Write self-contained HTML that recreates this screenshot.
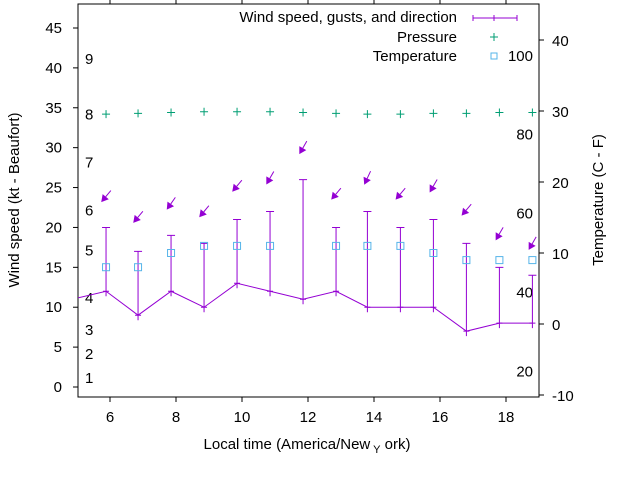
<!DOCTYPE html>
<html><head><meta charset="utf-8"><style>
body{margin:0;background:#fff}
svg{display:block;font-family:"Liberation Sans",sans-serif;font-size:15px}
</style></head><body>
<svg id="chart" width="640" height="480" viewBox="0 0 640 480">
<g id="g"></g>
</svg>
<script>
const hours=[4.85,5.88,6.85,7.85,8.85,9.85,10.85,11.85,12.85,13.8,14.8,15.8,16.8,17.8,18.8];
const windSpeed=[11,12,9,12,10,13,12,11,12,10,10,10,7,8,8];
const gusts=[null,20,17,19,18,21,22,26,20,22,20,21,18,15,14];
const arrowLevel=[null,23.9,21.3,23,22,25.2,26.2,30,24.2,26.2,24.2,25.2,22.2,19.2,18];
const windFrom=[null,40,40,35,40,40,30,30,40,25,40,30,40,30,30];
const pressure=[null,34.2,34.3,34.4,34.5,34.5,34.5,34.4,34.3,34.2,34.2,34.3,34.3,34.4,34.4];
const temperature=[null,8,8,10,11,11,11,null,11,11,11,10,9,9,9];
const xTicks=[6,8,10,12,14,16,18];
const yTicks=[0,5,10,15,20,25,30,35,40,45];
const y2Ticks=[-10,0,10,20,30,40];
const beaufort=[[1,1],[2,4],[3,7],[4,11],[5,17],[6,22],[7,28],[8,34],[9,41]];
const fahr=[[20,-6.67],[40,4.44],[60,15.56],[80,26.67],[100,37.78]];

const L=78,R=539,T=4,B=397;
const X=v=>77+(v-5)*33;
const Y=v=>387-v*7.978;
const Y2=v=>324-v*7.1;
const NS='http://www.w3.org/2000/svg';
const g=document.getElementById('g');
function el(t,a,p){const e=document.createElementNS(NS,t);for(const k in a)e.setAttribute(k,a[k]);(p||g).appendChild(e);return e;}
const PUR='#9400d3',GRN='#009e73',BLU='#56b4e9';

const defs=el('defs',{});
const cp=el('clipPath',{id:'cp'},defs);
el('rect',{x:L,y:T,width:R-L,height:B-T},cp);

const border=el('rect',{x:L,y:T,width:R-L,height:B-T,fill:'none',stroke:'#000','stroke-width':1});



xTicks.forEach(v=>{
  const x=X(v);
  const t1=el('line',{x1:x,y1:B,x2:x,y2:B+5,stroke:'#000'});
  
  
  el('line',{x1:x,y1:T,x2:x,y2:T-5,stroke:'#000'});
  const tx=el('text',{x:x,y:B+25,'text-anchor':'middle',fill:'#000'});
  tx.textContent=v;
  
  
});
yTicks.forEach(v=>{
  const y=Y(v);
  el('line',{x1:L,y1:y,x2:L-5,y2:y,stroke:'#000'});
  const tx=el('text',{x:62,y:y+5,'text-anchor':'end'});
  tx.textContent=v;
  
  
});
y2Ticks.forEach(v=>{
  const y=Y2(v);
  el('line',{x1:R,y1:y,x2:R+5,y2:y,stroke:'#000'});
  const tx=el('text',{x:552,y:y+6});
  tx.textContent=v;
  
  
});
beaufort.forEach(([b,v])=>{
  const tx=el('text',{x:85,y:Y(v)+4});
  tx.textContent=b;
  
  
});
fahr.forEach(([f,c])=>{
  const tx=el('text',{x:533,y:Y2(c)+5,'text-anchor':'end'});
  tx.textContent=f;
  
  
});

const pg=el('g',{'clip-path':'url(#cp)'});
const pl=el('polyline',{points:hours.map((h,i)=>X(h)+','+Y(windSpeed[i])).join(' '),fill:'none',stroke:PUR,'stroke-width':1},pg);


hours.forEach((h,i)=>{
  const x=X(h);
  if(gusts[i]!=null){
    const eb=el('path',{d:`M${x},${Y(windSpeed[i])+5}V${Y(gusts[i])}M${x-4},${Y(gusts[i])}H${x+4}M${x-3},${Y(windSpeed[i])}H${x+3}`,stroke:PUR,fill:'none'},pg);
    
    
  }
  if(arrowLevel[i]!=null){
    const a=windFrom[i]*Math.PI/180,cx=x,cy=Y(arrowLevel[i]);
    const dx=Math.sin(a)*7.5,dy=-Math.cos(a)*7.5;
    const tx=cx+dx,ty=cy+dy,hx=cx-dx,hy=cy-dy;
    const ux=(hx-tx)/15,uy=(hy-ty)/15;
    const bx=hx-ux*7,by=hy-uy*7;
    const ar=el('g',{},pg);
    
    
    el('line',{x1:tx,y1:ty,x2:bx,y2:by,stroke:PUR},ar);
    el('polygon',{points:`${hx},${hy} ${bx-uy*4},${by+ux*4} ${bx+uy*4},${by-ux*4}`,fill:PUR},ar);
  }
  if(pressure[i]!=null){
    const y=Y(pressure[i]);
    const p=el('path',{d:`M${x-4},${y}H${x+4}M${x},${y-4}V${y+4}`,stroke:GRN},pg);
    
    
  }
  if(temperature[i]!=null){
    const y=Y2(temperature[i]);
    const s=el('rect',{x:x-3.5,y:y-3.5,width:7,height:7,fill:'none',stroke:BLU},pg);
    
    
  }
});

const lg=el('g',{});


[['Wind speed, gusts, and direction',22],['Pressure',42],['Temperature',61]].forEach(([t,y])=>{
  const tx=el('text',{x:457,y:y,'text-anchor':'end'},lg);
  tx.textContent=t;
  
  
});
el('path',{d:'M473,18H517M473,15V21M517,15V21M494,15V21',stroke:PUR,fill:'none'},lg);
el('path',{d:'M490,37H498M494,33V41',stroke:GRN},lg);
el('rect',{x:491,y:53,width:6,height:6,fill:'none',stroke:BLU},lg);

const yt=el('text',{x:0,y:0,'text-anchor':'middle',transform:'translate(19,200) rotate(-90)'});
yt.textContent='Wind speed (kt - Beaufort)';


const y2t=el('text',{x:0,y:0,'text-anchor':'middle',transform:'translate(603,200) rotate(-90)'});
y2t.textContent='Temperature (C - F)';


const xt=el('text',{x:307,y:449,'text-anchor':'middle'});


xt.appendChild(document.createTextNode('Local time (America/New'));
const sub=el('tspan',{dy:4,'font-size':11},xt);sub.textContent=' Y';
const rest=el('tspan',{dy:-4},xt);rest.textContent=' ork)';
</script>
</body></html>
